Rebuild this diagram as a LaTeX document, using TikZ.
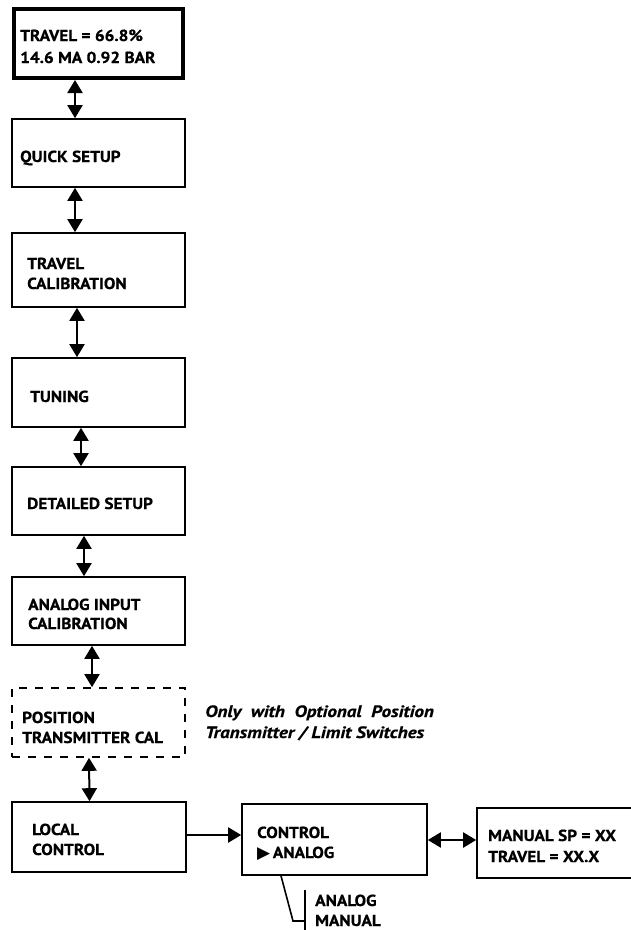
\documentclass[tikz,border=0pt]{standalone}
\usepackage{fontspec}
\setmainfont[FakeStretch=1.08,FakeBold=0.6]{PT Sans}
\newfontfamily\notefont[FakeStretch=1.16,FakeBold=0.6]{PT Sans}
\newfontfamily\symfont{DejaVu Sans}
\usetikzlibrary{arrows.meta}
\begin{document}
\begin{tikzpicture}[x=1bp,y=-1bp,
  box/.style={draw, line width=1.6bp, inner sep=0pt, minimum width=173bp, minimum height=68bp},
  txt/.style={anchor=base west, inner sep=0pt, font=\bfseries\fontsize{16}{19}\selectfont},
  note/.style={anchor=base west, inner sep=0pt, font=\notefont\bfseries\itshape\fontsize{16.5}{19}\selectfont},
  dbl/.style={line width=2bp, {Triangle[length=13bp,width=15bp]}-{Triangle[length=13bp,width=15bp]}},
  sgl/.style={line width=2bp, -{Triangle[length=13bp,width=15bp]}},
  lnk/.style={line width=1.6bp}]
\fill[white] (0,0) rectangle (631,930);
\useasboundingbox (0,0) rectangle (631,930);
\clip (0,0) rectangle (631,930);
% boxes
\node[box, line width=4bp, minimum width=169bp, minimum height=69bp] (top) at (98.5,43.5) {};
\node[box] (quick) at (98.5,153) {};
\node[box, minimum height=74bp] (travel) at (98.5,270) {};
\node[box, minimum height=69bp] (tuning) at (98.5,392.5) {};
\node[box] (detail) at (98.5,501) {};
\node[box] (analog) at (98.5,611) {};
\node[box, dashed, dash pattern=on 8bp off 8bp, minimum height=69bp] (pos) at (98.5,722.5) {};
\node[box, minimum width=174bp, minimum height=70bp] (local) at (99,837) {};
\node[box, minimum width=185bp, minimum height=71bp] (control) at (334.5,839.5) {};
\node[box, minimum width=183bp, minimum height=70bp] (manual) at (568.5,843) {};
% texts
\node[txt] (t1) at (20,41) {TRAVEL = 66.8\%};
\node[txt] (t2) at (20,63) {14.6 MA 0.92 BAR};
\node[txt] (q1) at (20,162) {QUICK SETUP};
\node[txt] (tr1) at (27,269) {TRAVEL};
\node[txt] (tr2) at (27,289) {CALIBRATION};
\node[txt] (tu1) at (30,402) {TUNING};
\node[txt] (d1) at (27,509) {DETAILED SETUP};
\node[txt] (a1) at (28,610) {ANALOG INPUT};
\node[txt] (a2) at (28,629) {CALIBRATION};
\node[txt] (p1) at (22,723) {POSITION};
\node[txt] (p2) at (22,743) {TRANSMITTER CAL};
\node[note] (n1) at (205,717) {Only\ \ with\ \ Optional\ \ Position};
\node[note] (n2) at (205,738) {Transmitter / Limit Switches};
\node[txt] (l1) at (32,835) {LOCAL};
\node[txt] (l2) at (32,855) {CONTROL};
\node[txt] (c1) at (257,838) {CONTROL};
\node[txt] (c2) at (257,858) {{\symfont\fontsize{17}{18}\selectfont ▶}\,ANALOG};
\node[txt] (m1) at (488,841) {MANUAL SP = XX};
\node[txt] (m2) at (488,862) {TRAVEL = XX.X};
\node[txt] (s1) at (315,906) {ANALOG};
\node[txt] (s2) at (315,926) {MANUAL};
% connectors
\draw[dbl] ([xshift=-23.5bp]top.south) -- ([xshift=-23.5bp]quick.north);
\draw[dbl] ([xshift=-23.5bp]quick.south) -- ([xshift=-23.5bp]travel.north);
\draw[dbl] ([xshift=-21.5bp]travel.south) -- ([xshift=-21.5bp]tuning.north);
\draw[dbl] ([xshift=-17.5bp]tuning.south) -- ([xshift=-17.5bp]detail.north);
\draw[dbl] ([xshift=-14.5bp]detail.south) -- ([xshift=-14.5bp]analog.north);
\draw[dbl] ([xshift=-6.5bp]analog.south) -- ([xshift=-6.5bp]pos.north);
\draw[dbl] ([xshift=-9.5bp]pos.south) -- ([xshift=-9.5bp]local.north);
\draw[sgl] ([yshift=2bp]local.east) -- ([yshift=2bp]local.east -| control.west);
\draw[dbl] ([yshift=-0.5bp]control.east) -- ([yshift=-0.5bp]control.east -| manual.west);
% selector bracket
\coordinate (b0) at ([xshift=-53.5bp]control.south);
\coordinate (b1) at (293,921);
\coordinate (b2) at (305,921);
\coordinate (b3) at (305,890);
\coordinate (b4) at (305,935);
\draw[lnk] (b0) -- (b1) -- (b2);
\draw[lnk] (b3) -- (b4);
\end{tikzpicture}
\end{document}
